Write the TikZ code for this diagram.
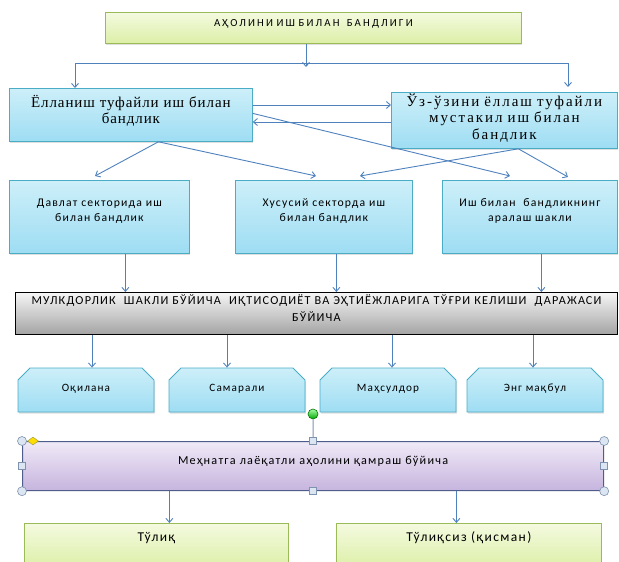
\documentclass[tikz,border=0pt]{standalone}
\usepackage{fontspec}
\setmainfont{Carlito}
\newfontfamily\boxsans{Carlito}[LetterSpace=10]
\newfontfamily\boxsanswide{Carlito}[LetterSpace=20]
\newfontfamily\boxserif{Liberation Serif}[LetterSpace=6]
\newfontfamily\boxserifwide{Liberation Serif}[LetterSpace=13]
\usetikzlibrary{arrows.meta, shapes.misc, shapes.geometric, calc, shadows}

\definecolor{arrowblue}{HTML}{4F81BD}
\definecolor{bluetop}{HTML}{CDEFF9}
\definecolor{bluebot}{HTML}{9EDDF3}
\definecolor{blueline}{HTML}{4BACC6}
\definecolor{greentop}{HTML}{F4FAE0}
\definecolor{greenbot}{HTML}{DCEFA6}
\definecolor{greenline}{HTML}{9BBB59}
\definecolor{graytop}{HTML}{F6F6F6}
\definecolor{graybot}{HTML}{A3A3A3}
\definecolor{purptop}{HTML}{F0EAF7}
\definecolor{purpbot}{HTML}{C6B4DE}
\definecolor{purpline}{HTML}{4F5D8C}
\definecolor{handlefill}{HTML}{DCE6F2}
\definecolor{handleline}{HTML}{7F93AE}

\begin{document}
\begin{tikzpicture}[
    x=1pt, y=-1pt,
    box/.style={anchor=north west, inner sep=0pt, align=center, line width=0.8pt},
    tb/.style 2 args={text height=#1, text depth=#2},
    softshadow/.style={drop shadow={shadow xshift=1pt, shadow yshift=-1.5pt, opacity=0.25}},
    greenbox/.style={box, draw=greenline, top color=greentop, bottom color=greenbot, font=\boxsans\fontsize{13.5}{15}\selectfont},
    bluebox/.style={box, softshadow, draw=blueline, top color=bluetop, bottom color=bluebot, font=\boxsans\fontsize{11.7}{15}\selectfont},
    mainbox/.style={bluebox, font=\boxserif\fontsize{15}{16}\selectfont},
    graybox/.style={box, draw=black, line width=1pt, top color=graytop, bottom color=graybot, font=\boxsans\fontsize{12.2}{17}\selectfont},
    levelbox/.style={chamfered rectangle, chamfered rectangle corners={north west, north east}, chamfered rectangle sep=6pt,
        softshadow, draw=blueline, line width=0.8pt, top color=bluetop, bottom color=bluebot, inner sep=0pt, align=center,
        text width=124pt, tb={17pt}{15pt}, font=\boxsans\fontsize{11.2}{13}\selectfont},
    purpbox/.style={box, rounded corners=2pt, draw=purpline, line width=1.2pt, top color=purptop, bottom color=purpbot, font=\boxsans\fontsize{12.2}{14}\selectfont},
    hcirc/.style={circle, draw=handleline, fill=handlefill, inner sep=0pt, minimum size=9pt, line width=0.6pt},
    hsq/.style={rectangle, draw=handleline, fill=handlefill, inner sep=0pt, minimum size=7pt, line width=0.6pt},
    hrot/.style={circle, draw=green!45!black, top color=green!35!white, bottom color=green!65!black, inner sep=0pt, minimum size=10pt, line width=0.6pt},
    hadj/.style={diamond, draw=yellow!60!black, fill=yellow!80!orange, inner sep=0pt, minimum width=11pt, minimum height=8pt, line width=0.5pt},
    arrow/.style={-{Straight Barb[length=4pt, width=7pt]}, line width=0.9pt, draw=arrowblue}
]
\useasboundingbox (0,0) rectangle (619,562);
\clip (0,0) rectangle (619,562);

% Nodes
\node (top) [greenbox, softshadow, font=\boxsanswide\fontsize{10.8}{12}\selectfont, text width=416pt, tb={14pt}{17pt}] at (105,12) {АҲОЛИНИ ИШ БИЛАН \ БАНДЛИГИ};

\node (b1) [mainbox, text width=243pt, tb={19pt}{34pt}] at (9,88) {Ёлланиш туфайли иш билан\\бандлик};
\node (b2) [mainbox, font=\boxserifwide\fontsize{15}{16.5}\selectfont, text width=226pt, tb={14pt}{42pt}] at (391,92) {Ўз-ўзини ёллаш туфайли\\мустакил иш билан\\бандлик};

\node (b3) [bluebox, text width=180pt, tb={26pt}{47pt}] at (9,180) {Давлат секторида иш\\билан бандлик};
\node (b4) [bluebox, text width=177pt, tb={26pt}{47pt}] at (235,180) {Хусусий секторда иш\\билан бандлик};
\node (b5) [bluebox, text width=175pt, tb={26pt}{47pt}] at (442,180) {Иш билан \ бандликнинг\\аралаш шакли};

\node (g) [graybox, text width=602pt, tb={12pt}{30pt}] at (15,292) {МУЛКДОРЛИК \ ШАКЛИ БЎЙИЧА \ ИҚТИСОДИЁТ ВА ЭҲТИЁЖЛАРИГА ТЎҒРИ КЕЛИШИ \ ДАРАЖАСИ\\БЎЙИЧА};

\node (c1) [levelbox] at (86,390) {Оқилана};
\node (c2) [levelbox] at (237,390) {Самарали};
\node (c3) [levelbox] at (388,390) {Маҳсулдор};
\node (c4) [levelbox] at (535,390) {Энг мақбул};

\node (purp) [purpbox, text width=581pt, tb={23pt}{26pt}] at (22,441) {Меҳнатга лаёқатли аҳолини қамраш бўйича};

\node (t1) [greenbox, text width=264pt, tb={18pt}{27pt}] at (24,523) {Тўлиқ};
\node (t2) [greenbox, text width=265pt, tb={18pt}{27pt}] at (336,523) {Тўлиқсиз (қисман)};

% Arrows
\coordinate (busL) at (75,63);
\coordinate (busM) at (306,63);
\coordinate (busR) at (568,63);
\coordinate (lvlA) at (0,105);
\coordinate (lvlB) at (0,122);

\draw [arrow] (top.south -| busM) -- ([yshift=-4pt]busM);
\draw [arrow] (busM) -- (busL) -- (b1.north -| busL);
\draw [arrow] (busM) -- (busR) -- ([yshift=5pt]b2.north -| busR);

\draw [arrow] (b1.east |- lvlA) -- (b2.west |- lvlA);
\draw [arrow] (b2.west |- lvlB) -- (b1.east |- lvlB);

\draw [arrow] ([yshift=1.5pt]b1.east) -- ($(b5.north west)+(68,-4)$);
\draw [arrow] ([xshift=27.5pt]b1.south) -- ($(b3.north west)+(86,-4)$);
\draw [arrow] ([xshift=27.5pt]b1.south) -- ($(b4.north west)+(81,-4)$);
\draw [arrow] ([xshift=14pt]b2.south) -- ($(b4.north west)+(125,-4)$);
\draw [arrow] ([xshift=14pt]b2.south) -- ($(b5.north west)+(126,-3)$);

\foreach \n/\s in {b3/26, b4/12.5, b5/11.5}
    \draw [arrow] ([xshift=\s pt]\n.south) -- ([xshift=\s pt]\n.south |- g.north);

\foreach \n/\s in {c1/6, c2/-10, c3/4, c4/-2}
    \draw [arrow] ([xshift=\s pt]\n.north |- g.south) -- ([xshift=\s pt]\n.north);

\foreach \n/\s in {t1/13, t2/-12.5}
    \draw [arrow] ([xshift=\s pt]\n.north |- purp.south) -- ([xshift=\s pt]\n.north);

% Selection handles
\node (rot) [hrot] at (313,414) {};
\foreach \a [count=\i] in {north west, north east, south west, south east}
    \node (hc\i) [hcirc] at (purp.\a) {};
\foreach \a [count=\i] in {north, south, west, east}
    \node (hs\i) [hsq] at (purp.\a) {};
\node (adj) [hadj] at (33,441) {};
\draw [handleline, line width=1pt] (rot) -- (hs1);

\end{tikzpicture}
\end{document}
